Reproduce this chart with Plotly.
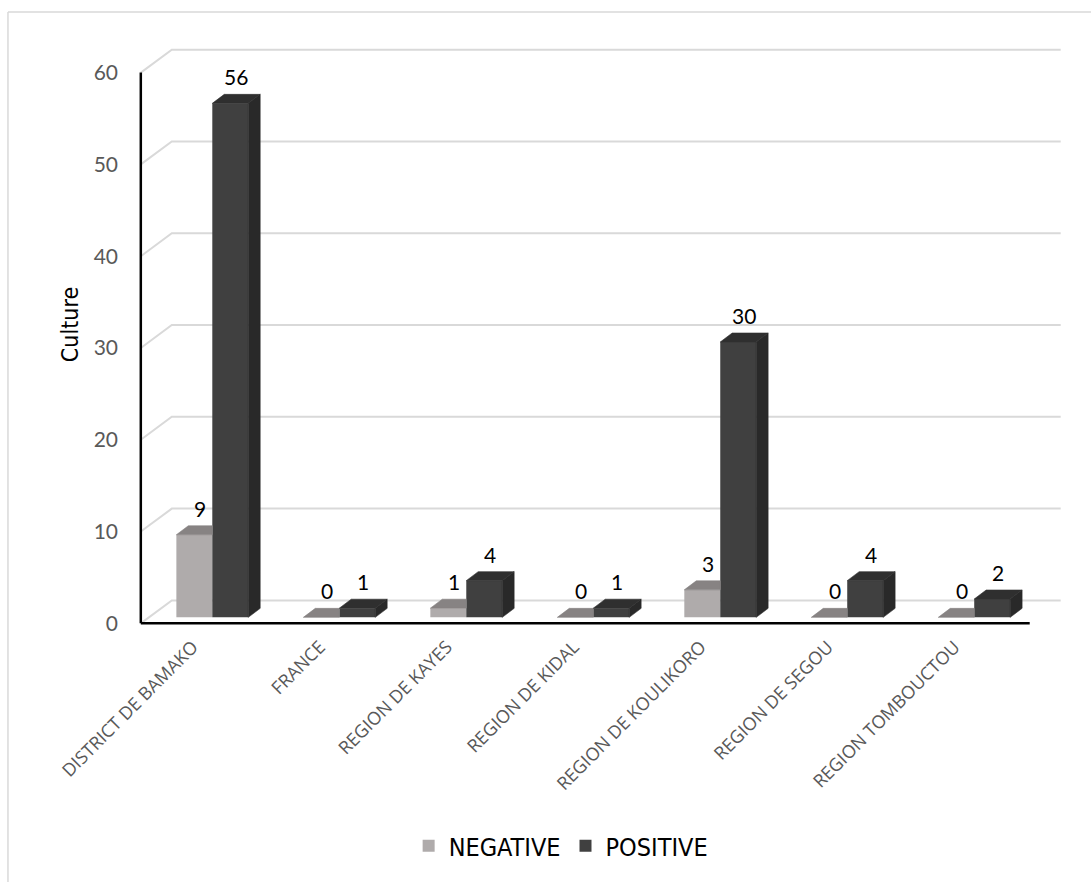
import plotly.graph_objects as go

# ---- data -----------------------------------------------------------------
categories = [
    "DISTRICT DE BAMAKO",
    "FRANCE",
    "REGION DE KAYES",
    "REGION DE KIDAL",
    "REGION DE KOULIKORO",
    "REGION DE SEGOU",
    "REGION TOMBOUCTOU",
]
negative = [9, 0, 1, 0, 3, 0, 0]
positive = [56, 1, 4, 1, 30, 4, 2]
y_ticks = [0, 10, 20, 30, 40, 50, 60]

# ---- oblique "3-D" projection offsets, in data units ------------------------
WALL_DX, WALL_DY = 0.244, 2.5      # front plane -> back wall
FACE_DX, FACE_DY = 0.063, 0.65     # front plane -> bar front faces
DEPTH_DX, DEPTH_DY = 0.094, 0.98   # bar depth
BAR_W = 0.283
LABEL_SHIFT = -0.09                # rotated category labels end near the tick

NEG_FRONT, NEG_TOP = "#AFABAB", "#878383"
POS_FRONT, POS_TOP, POS_SIDE = "#404040", "#2F2F2F", "#292929"

NARROW = "Liberation Sans Narrow, Arial Narrow, DejaVu Sans Condensed, sans-serif"
NUMFONT = "Lato, Open Sans, sans-serif"

n = len(categories)
neg_x = [i + FACE_DX - BAR_W / 2 for i in range(n)]
pos_x = [i + FACE_DX + BAR_W / 2 for i in range(n)]

fig = go.Figure()

# front faces
fig.add_trace(go.Bar(
    name="NEGATIVE", x=neg_x, y=negative, base=FACE_DY, width=BAR_W,
    marker=dict(color=NEG_FRONT, line=dict(width=0)),
))
fig.add_trace(go.Bar(
    name="POSITIVE", x=pos_x, y=positive, base=FACE_DY, width=BAR_W,
    marker=dict(color=POS_FRONT, line=dict(width=0)),
))


def polys(points_list):
    xs, ys = [], []
    for pts in points_list:
        for px, py in pts:
            xs.append(px)
            ys.append(py)
        xs.append(pts[0][0])
        ys.append(pts[0][1])
        xs.append(None)
        ys.append(None)
    return xs, ys


# top face of the light bars (its right part is hidden by the dark bar)
neg_tops = []
for cx, v in zip(neg_x, negative):
    xl, xr = cx - BAR_W / 2, cx + BAR_W / 2
    t = FACE_DY + v
    neg_tops.append([(xl, t), (xl + DEPTH_DX, t + DEPTH_DY), (xr, t + DEPTH_DY), (xr, t)])

pos_tops, pos_sides = [], []
for cx, v in zip(pos_x, positive):
    xl, xr = cx - BAR_W / 2, cx + BAR_W / 2
    b, t = FACE_DY, FACE_DY + v
    pos_tops.append([(xl, t), (xl + DEPTH_DX, t + DEPTH_DY),
                     (xr + DEPTH_DX, t + DEPTH_DY), (xr, t)])
    pos_sides.append([(xr, b), (xr + DEPTH_DX, b + DEPTH_DY),
                      (xr + DEPTH_DX, t + DEPTH_DY), (xr, t)])

for pts, col in ((neg_tops, NEG_TOP), (pos_sides, POS_SIDE), (pos_tops, POS_TOP)):
    xs, ys = polys(pts)
    fig.add_trace(go.Scatter(
        x=xs, y=ys, mode="lines", fill="toself", fillcolor=col,
        line=dict(color=col, width=0.6), hoverinfo="skip", showlegend=False,
    ))

# value labels above each bar
annotations = []
for xs_, vals in ((neg_x, negative), (pos_x, positive)):
    for cx, v in zip(xs_, vals):
        annotations.append(dict(
            x=cx + DEPTH_DX / 2, y=FACE_DY + v + DEPTH_DY, xref="x", yref="y",
            text=str(v), showarrow=False, yanchor="bottom", yshift=3,
            font=dict(family=NUMFONT, size=21, color="#000000"),
        ))

annotations.append(dict(
    x=-0.072, y=0.52, xref="paper", yref="paper", text="Culture",
    textangle=-90, showarrow=False, xanchor="center", yanchor="middle",
    font=dict(family=NARROW, size=23, color="#000000"),
))

# walls: gridlines on the back wall and their continuation on the left wall
shapes = []
for v in y_ticks:
    shapes.append(dict(
        type="path", xref="x", yref="y", layer="below",
        path=f"M -0.5 {v} L {-0.5 + WALL_DX} {v + WALL_DY} L {n - 0.5 + WALL_DX} {v + WALL_DY}",
        line=dict(color="#D9D9D9", width=2),
    ))

# axis lines on the front plane
shapes.append(dict(type="line", xref="x", yref="y", x0=-0.5, x1=-0.5, y0=0, y1=60,
                   line=dict(color="#000000", width=2.5)))
shapes.append(dict(type="line", xref="x", yref="y", x0=-0.5, x1=n - 0.5, y0=0, y1=0,
                   line=dict(color="#000000", width=2.5)))

# chart-area border (left and top edges)
shapes.append(dict(type="line", xref="paper", yref="paper", x0=-0.1392, x1=-0.1392,
                   y0=1.0585, y1=-0.45, line=dict(color="#D9D9D9", width=1.5)))
shapes.append(dict(type="line", xref="paper", yref="paper", x0=-0.1392, x1=1.05,
                   y0=1.0585, y1=1.0585, line=dict(color="#D9D9D9", width=1.5)))

fig.update_layout(
    width=1091, height=882,
    margin=dict(l=137, r=27, t=46, b=255),
    paper_bgcolor="#FFFFFF", plot_bgcolor="#FFFFFF",
    barmode="overlay",
    showlegend=True,
    legend=dict(
        orientation="h", x=0.457, y=-0.377, xanchor="center", yanchor="middle",
        font=dict(family=NARROW, size=25, color="#000000"),
        itemwidth=30, traceorder="normal",
    ),
    annotations=annotations,
    shapes=shapes,
    xaxis=dict(
        range=[-0.53, 6.77], tickmode="array",
        tickvals=[i + LABEL_SHIFT for i in range(n)],
        ticktext=categories, tickangle=-45, showgrid=False, zeroline=False,
        showline=False, ticks="", ticklabelstandoff=5,
        tickfont=dict(family="Open Sans, sans-serif", size=18, color="#595959"),
    ),
    yaxis=dict(
        range=[-0.4, 62.9], tickmode="array", tickvals=y_ticks,
        showgrid=False, zeroline=False, showline=False, ticks="",
        ticklabelstandoff=18,
        tickfont=dict(family=NUMFONT, size=21, color="#595959"),
    ),
)

fig.write_html("out.html")
